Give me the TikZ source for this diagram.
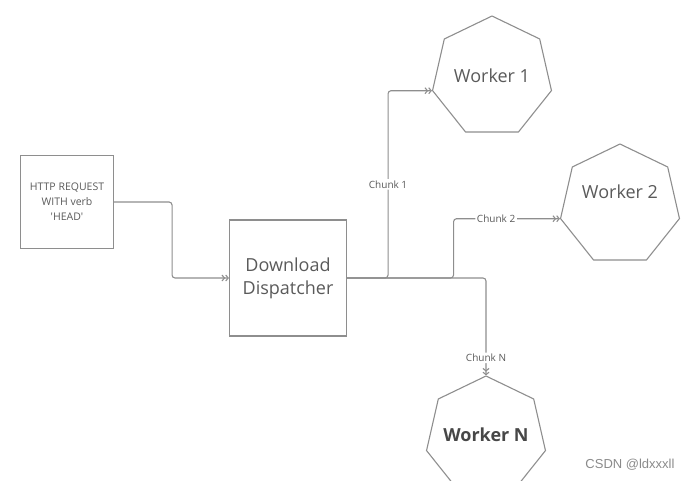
\documentclass[tikz,border=0pt]{standalone}
\usepackage{fontspec}
\setmainfont{Open Sans}
\newfontfamily\markfont{Liberation Sans}
\usetikzlibrary{arrows.meta,shapes.geometric}
\definecolor{linegray}{HTML}{8E8E8E}
\definecolor{textgray}{HTML}{5A5A5A}
\definecolor{markgray}{HTML}{8A8A8A}

\begin{document}
\begin{tikzpicture}[x=1pt, y=-1pt,
    box/.style = {draw=linegray, line width=1.1pt, text=textgray, align=center},
    worker/.style = {regular polygon, regular polygon sides=7, draw=linegray, line width=1.1pt, minimum size=122pt, inner sep=0pt},
    every label/.style = {text=textgray, font=\fontsize{18}{22}\selectfont},
    conn/.style = {draw=linegray, line width=1.1pt, rounded corners=3pt, -{Straight Barb[length=2.5pt,width=6pt]Straight Barb[length=2.5pt,width=6pt]}},
    chunk/.style = {fill=white, text=textgray, font=\fontsize{10}{12}\selectfont, inner sep=1.5pt}]
    \useasboundingbox (0,0) rectangle (691,480);

    % Nodes
    \node[box, minimum width=93pt, minimum height=93pt, font=\fontsize{10.5}{15}\selectfont] (req) at (67,202) {HTTP REQUEST\\WITH verb\\\textquotesingle HEAD\textquotesingle};
    \node[box, minimum width=117pt, minimum height=116pt, font=\fontsize{18}{23}\selectfont] (disp) at (288,278) {Download\\Dispatcher};
    \node[worker, label={[yshift=1pt]center:Worker 1}] (w1) at (492,77) {};
    \node[worker, label={[yshift=13.5pt]center:Worker 2}] (w2) at (620,205) {};
    \node[worker, label={[yshift=2pt, text=black!72, font=\fontsize{18}{22}\selectfont\bfseries]center:Worker N}] (wN) at (486,437) {};
    \node[text=markgray, font=\markfont\fontsize{13}{15}\selectfont] (mark) at (630,465) {CSDN @ldxxxll};

    % Lines
    \draw[conn] (req.east) -- ++(58,0) |- (disp.west);
    \draw[conn] (disp.east) -- ++(41,0) |- (w1.corner 3) node[chunk, pos=0.25] {Chunk 1};
    \draw[conn] (disp.east) -- ++(106.5,0) |- (w2.corner 3) node[chunk, pos=0.7] {Chunk 2};
    \draw[conn] (disp.east) -| (wN.corner 1) node[chunk, pos=0.91] {Chunk N};
\end{tikzpicture}
\end{document}
